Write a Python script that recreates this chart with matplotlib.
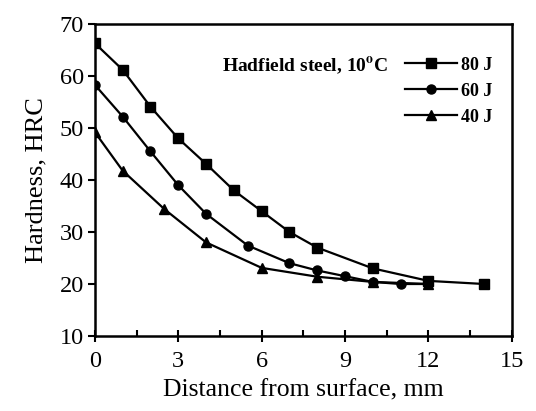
import matplotlib
matplotlib.use("Agg")
import matplotlib.pyplot as plt
from matplotlib.ticker import MultipleLocator

plt.rcParams['font.family'] = ['Liberation Serif', 'DejaVu Serif']
plt.rcParams['mathtext.fontset'] = 'stix'

x80 = [0, 1, 2, 3, 4, 5, 6, 7, 8, 10, 12, 14]
y80 = [66.3, 61.2, 54.1, 48.0, 43.1, 38.0, 34.0, 30.0, 27.0, 23.0, 20.6, 20.0]
x60 = [0, 1, 2, 3, 4, 5.5, 7, 8, 9, 10, 11, 12]
y60 = [58.3, 52.2, 45.5, 39.0, 33.5, 27.4, 24.0, 22.6, 21.5, 20.4, 20.0, 20.0]
x40 = [0, 1, 2.5, 4, 6, 8, 10, 12]
y40 = [49.2, 41.8, 34.4, 28.0, 23.1, 21.4, 20.4, 20.0]
labels = ["80 J", "60 J", "40 J"]
xticks = [0, 3, 6, 9, 12, 15]
yticks = [10, 20, 30, 40, 50, 60, 70]

fig = plt.figure(figsize=(5.36, 4.11), dpi=100)
ax = fig.add_axes([0.177, 0.1825, 0.778, 0.759])

ax.plot(x80, y80, '-s', color='black', lw=1.6, ms=6.5, label=labels[0])
ax.plot(x60, y60, '-o', color='black', lw=1.6, ms=6.5, label=labels[1])
ax.plot(x40, y40, '-^', color='black', lw=1.6, ms=7, label=labels[2])

ax.set_xlim(0, 15)
ax.set_ylim(10, 70)
ax.set_xticks(xticks)
ax.set_yticks(yticks)
ax.xaxis.set_minor_locator(MultipleLocator(1.5))
ax.tick_params(axis='x', which='major', direction='inout', length=9, width=1.5, labelsize=17.5, pad=6)
ax.tick_params(axis='x', which='minor', direction='in', length=4, width=1.5)
ax.tick_params(axis='y', which='major', direction='out', length=5, width=1.5, labelsize=17.5, pad=3)
for s in ax.spines.values():
    s.set_linewidth(1.8)

ax.set_xlabel("Distance from surface, mm", fontsize=18.5, labelpad=6)
ax.set_ylabel("Hardness, HRC", fontsize=19, labelpad=9)

leg = ax.legend(loc='center left', bbox_to_anchor=(0.743, 0.785), frameon=False,
                prop={'weight': 'bold', 'size': 13}, handlelength=2.9,
                labelspacing=0.5, handletextpad=0.2, borderpad=0, borderaxespad=0)
ax.text(0.305, 0.865, "Hadfield steel, 10$^{\\mathbf{o}}$C", transform=ax.transAxes,
        fontsize=14, fontweight='bold', ha='left', va='center')

fig.savefig("out.png", dpi=100)
